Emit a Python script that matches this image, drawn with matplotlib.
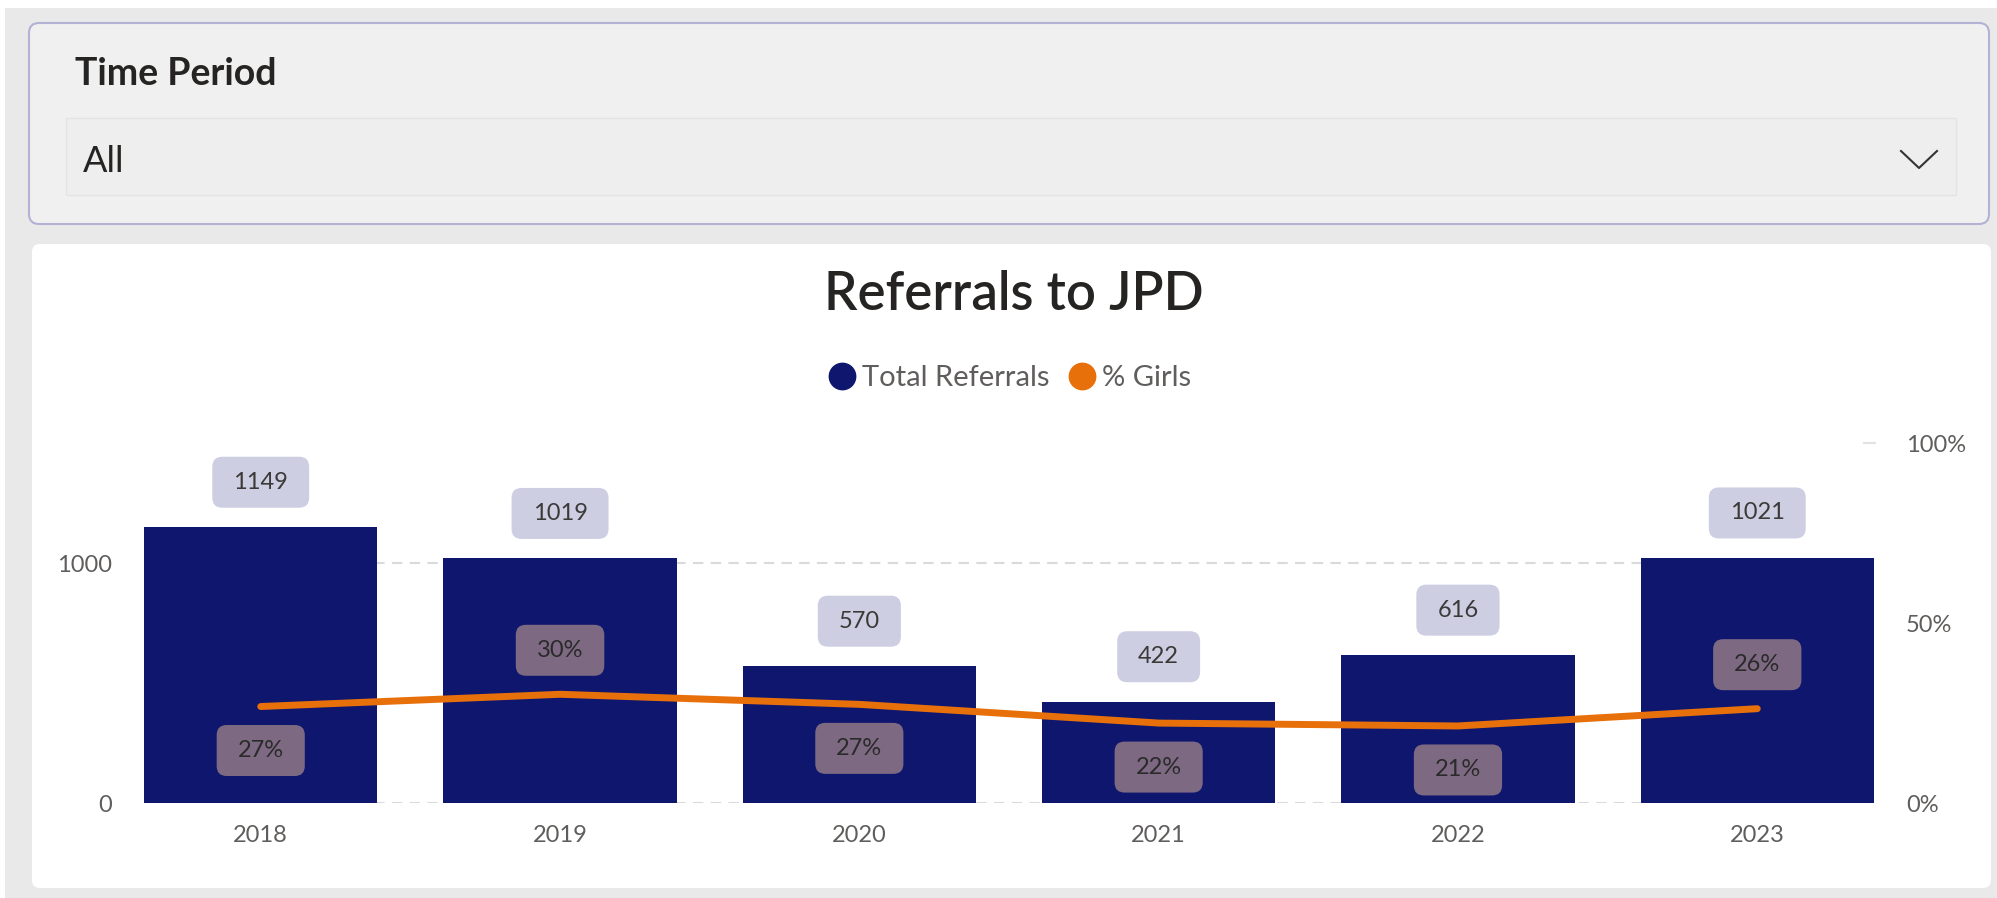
import matplotlib
matplotlib.use('Agg')
import matplotlib.pyplot as plt
from matplotlib.patches import FancyBboxPatch
from matplotlib.lines import Line2D
from matplotlib import transforms

# data
years = ['2018', '2019', '2020', '2021', '2022', '2023']
total_referrals = [1149, 1019, 570, 422, 616, 1021]
pct_girls = [0.268, 0.302, 0.274, 0.222, 0.214, 0.262]

# where the % labels sit (above / below the line)
pct_label_above = [False, True, False, False, False, True]

W, H = 1997, 898
plt.rcParams['font.family'] = ['Lato', 'DejaVu Sans']

fig = plt.figure(figsize=(W / 100, H / 100), dpi=100)
fig.patch.set_facecolor('white')


def px_box(x0, y0, x1, y1, **kw):
    # pixel box (top-left origin) -> inches from bottom-left
    p = FancyBboxPatch((x0 / 100, (H - y1) / 100), (x1 - x0) / 100, (y1 - y0) / 100,
                       transform=fig.dpi_scale_trans, **kw)
    fig.add_artist(p)
    return p


# page background and the two cards
px_box(5, 8, W, H, boxstyle='square,pad=0', fc='#E9E9E9', ec='none', zorder=-10)
px_box(29, 23, 1989, 224, boxstyle='round,pad=0,rounding_size=0.1',
       fc='#F0F0F0', ec='#B4B2D4', lw=1.5, zorder=-9)
px_box(66, 118, 1956, 195, boxstyle='square,pad=0', fc='#EEEEEE', ec='#E4E4E4', lw=1, zorder=-8)
px_box(32, 244, 1991, 888, boxstyle='round,pad=0,rounding_size=0.08',
       fc='white', ec='none', zorder=-9)

# slicer
fig.text(75 / W, 1 - 74 / H, 'Time Period', fontsize=27, weight='bold', color='#252423', va='center')
fig.text(83 / W, 1 - 162 / H, 'All', fontsize=26, color='#252423', va='center')
fig.add_artist(Line2D([1901 / W, 1919 / W, 1937 / W], [1 - 151 / H, 1 - 168 / H, 1 - 151 / H],
                      color='#333333', lw=1.5, transform=fig.transFigure))

# title
fig.text(1014 / W, 1 - 294 / H, 'Referrals to JPD', fontsize=38, weight='semibold',
         color='#252423', ha='center', va='center')

# chart
ax = fig.add_axes([144 / W, 1 - 803 / H, 1730 / W, 360 / H])
ax.patch.set_alpha(0)
x = list(range(len(years)))
ax.bar(x, total_referrals, width=0.78, color='#0F166E', zorder=2)
ax.set_xlim(-0.39, 5.39)
ax.set_ylim(0, 1500)
ax.set_yticks([0, 1000])
ax.yaxis.grid(True, ls=(0, (5, 3.5)), color='#DADADA', lw=1.5)
ax.set_axisbelow(True)
# small grid stub at the top of the scale (100%)
ax.plot([5.355, 5.395], [1500, 1500], color='#E3E3E3', lw=1.5, clip_on=False, zorder=1)
for s in ax.spines.values():
    s.set_visible(False)
ax.tick_params(axis='y', length=0, pad=23, labelsize=17, labelcolor='#605E5C')
ax.set_xticks(x, years)
ax.tick_params(axis='x', length=0, pad=16, labelsize=17, labelcolor='#605E5C')

ax2 = ax.twinx()
ax2.set_ylim(0, 1)
ax2.set_yticks([0, 0.5, 1], ['0%', '50%', '100%'])
ax2.tick_params(axis='y', length=0, pad=23, labelsize=17, labelcolor='#605E5C')
for s in ax2.spines.values():
    s.set_visible(False)
ax2.plot(x, pct_girls, color='#E8700A', lw=5, solid_capstyle='round', zorder=3)

# legend
handles = [Line2D([], [], marker='o', ls='none', ms=19, color='#0F166E', label='Total Referrals'),
           Line2D([], [], marker='o', ls='none', ms=19, color='#E8700A', label='% Girls')]
leg = fig.legend(handles=handles, loc='center', bbox_to_anchor=(1009 / W, 1 - 378 / H), ncol=2,
                 frameon=False, handletextpad=0.2, columnspacing=0.6, handlelength=1.0,
                 fontsize=21, labelcolor='#605E5C')

renderer = fig.canvas.get_renderer()


def data_label(axis, xv, yv, dy, text, fc, tc):
    trans = transforms.Affine2D() + transforms.ScaledTranslation(xv, yv, axis.transData)
    t = fig.text(0, dy, text, transform=trans, ha='center', va='center',
                 fontsize=17, color=tc, zorder=11)
    w = t.get_window_extent(renderer).width + 42
    h = 51
    p = FancyBboxPatch((-w / 2, dy - h / 2), w, h, boxstyle='round,pad=0,rounding_size=10',
                       transform=trans, fc=fc, ec='none', zorder=10)
    fig.add_artist(p)


for i in x:
    data_label(ax, i, total_referrals[i], 45, str(total_referrals[i]), '#CDCEE2', '#3B3A39')
    dy = 44 if pct_label_above[i] else -44
    data_label(ax2, i, pct_girls[i], dy, f'{pct_girls[i]:.0%}', '#7D6A82', '#2A2A2A')

fig.savefig('out.png', dpi=100)
